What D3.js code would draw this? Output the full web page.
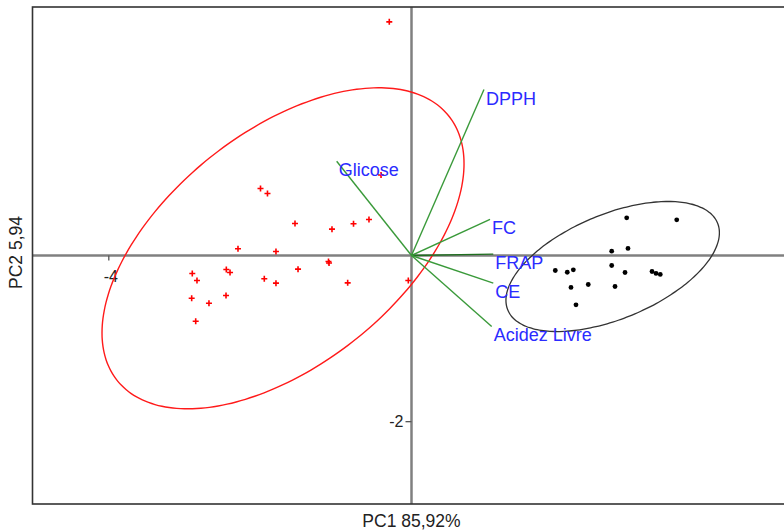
<!DOCTYPE html>
<html>
<head>
<meta charset="utf-8">
<script src="https://cdn.jsdelivr.net/npm/d3@7"></script>
<style>
  body { margin: 0; background: #fff; }
  text { font-family: "Liberation Sans", Arial, sans-serif; }
</style>
</head>
<body>
<div id="holder"></div>
<script>
// scores, group 1 (red crosses)
var redX = [-0.293, -0.402, -1.992, -1.900, -1.537, -1.049, -0.765, -0.561, -2.289, -1.788,
            -2.892, -2.830, -2.443, -2.394, -1.942, -1.788, -1.497, -1.095, -1.088, -0.842,
            -2.900, -2.672, -2.447, -2.847, -0.042];
var redY = [2.821, 0.972, 0.809, 0.749, 0.386, 0.318, 0.383, 0.435, 0.081, 0.048,
            -0.217, -0.302, -0.169, -0.205, -0.281, -0.334, -0.165, -0.072, -0.091, -0.330,
            -0.516, -0.576, -0.483, -0.793, -0.302];

// scores, group 2 (black dots)
var blackX = [2.839, 3.499, 2.641, 2.856, 1.897, 2.055, 2.135, 2.641, 2.817, 3.173,
              3.226, 3.282, 2.104, 2.332, 2.685, 2.170];
var blackY = [0.455, 0.431, 0.052, 0.085, -0.181, -0.202, -0.173, -0.121, -0.205, -0.193,
              -0.217, -0.229, -0.386, -0.350, -0.374, -0.595];

// variable loadings
var varNames = ["DPPH", "Glicose", "FC", "FRAP", "CE", "Acidez Livre"];
var varX = [0.956, -0.987, 1.036, 1.079, 1.079, 1.058];
var varY = [2.004, 1.138, 0.435, 0.016, -0.334, -0.857];

// ellipses: center x, center y, spread x, spread y, correlation
var ellipseRed = [-1.695, 0.087, 2.388, 1.938, 0.527];
var ellipseBlack = [2.654, -0.133, 1.408, 0.785, 0.519];

var xTicks = [-4];
var yTicks = [-2];
var xTitle = "PC1 85,92%";
var yTitle = "PC2 5,94";

var margin = {top: 7, left: 32.5};
var width = 758;
var height = 497;

var svg = d3.select('#holder').append('svg')
  .attr('width', 784)
  .attr('height', 530);

var g = svg.append('g')
  .attr('transform', 'translate(' + margin.left + ',' + margin.top + ')');

var xScale = d3.scaleLinear().domain([-5, 5]).range([0, width]);
var yScale = d3.scaleLinear().domain([-3, 3]).range([height, 0]);

// zero lines
g.append('line')
  .attr('x1', 0).attr('x2', width)
  .attr('y1', yScale(0)).attr('y2', yScale(0))
  .style('stroke', '#808080').style('stroke-width', 2.5);
g.append('line')
  .attr('x1', xScale(0)).attr('x2', xScale(0))
  .attr('y1', 0).attr('y2', height)
  .style('stroke', '#808080').style('stroke-width', 2.5);

// the few ticks there are (plain hyphen, not unicode minus)
var plain = function(d) { return String(d); };
var xAxis = g.append('g')
  .attr('transform', 'translate(0,' + yScale(0) + ')')
  .call(d3.axisBottom(xScale).tickValues(xTicks).tickSize(5).tickPadding(10).tickFormat(plain));
var yAxis = g.append('g')
  .attr('transform', 'translate(' + xScale(0) + ',0)')
  .call(d3.axisLeft(yScale).tickValues(yTicks).tickSize(6).tickPadding(2).tickFormat(plain));
[xAxis, yAxis].forEach(function(a) {
  a.select('.domain').remove();
  a.selectAll('line').style('stroke', '#555').style('stroke-width', 1.3);
  a.selectAll('text').style('font-size', '16px').style('fill', '#222')
    .style('font-family', '"Liberation Sans", Arial, sans-serif');
});
xAxis.selectAll('text').attr('dx', 2);

// ellipse outline from center / spread / correlation
function ellipsePath(e) {
  var pts = d3.range(0, 360, 3).map(function(a) {
    var t = a * Math.PI / 180;
    return [e[0] + e[2] * Math.cos(t),
            e[1] + e[3] * (e[4] * Math.cos(t) + Math.sqrt(1 - e[4] * e[4]) * Math.sin(t))];
  });
  return d3.line()
    .x(function(p) { return xScale(p[0]); })
    .y(function(p) { return yScale(p[1]); })
    .curve(d3.curveCardinalClosed)(pts);
}

g.append('path')
  .attr('d', ellipsePath(ellipseRed))
  .style('fill', 'none').style('stroke', '#ff1a1a').style('stroke-width', 1.4);
g.append('path')
  .attr('d', ellipsePath(ellipseBlack))
  .style('fill', 'none').style('stroke', '#333').style('stroke-width', 1.3);

// loading vectors
var loadings = varNames.map(function(n, i) { return {name: n, x: varX[i], y: varY[i]}; });

g.selectAll('.vec')
  .data(loadings)
  .enter().append('line')
  .attr('class', 'vec')
  .attr('x1', xScale(0)).attr('y1', yScale(0))
  .attr('x2', function(d) { return xScale(d.x); })
  .attr('y2', function(d) { return yScale(d.y); })
  .style('stroke', function(d) { return d.name == 'FRAP' ? '#1f6f1f' : '#3a9a3a'; })
  .style('stroke-width', 1.4);

// group 1 crosses
var red = redX.map(function(v, i) { return [v, redY[i]]; });
g.selectAll('.cross')
  .data(red)
  .enter().append('path')
  .attr('class', 'cross')
  .attr('transform', function(d) { return 'translate(' + xScale(d[0]) + ',' + yScale(d[1]) + ')'; })
  .attr('d', 'M-3,0H3M0,-3V3')
  .style('stroke', '#ff0000').style('stroke-width', 1.6);

// group 2 dots
var black = blackX.map(function(v, i) { return [v, blackY[i]]; });
g.selectAll('.dot')
  .data(black)
  .enter().append('circle')
  .attr('class', 'dot')
  .attr('cx', function(d) { return xScale(d[0]); })
  .attr('cy', function(d) { return yScale(d[1]); })
  .attr('r', 2.4)
  .style('fill', '#000');

// loading labels
g.selectAll('.vlabel')
  .data(loadings)
  .enter().append('text')
  .attr('class', 'vlabel')
  .attr('x', function(d) { return xScale(d.x) + 2; })
  .attr('y', function(d) { return yScale(d.y) + 15; })
  .style('font-size', '18px')
  .style('fill', '#2b2bff')
  .text(function(d) { return d.name; });

// frame
g.append('rect')
  .attr('width', width).attr('height', height)
  .style('fill', 'none').style('stroke', '#333').style('stroke-width', 1.6);

// axis titles
svg.append('text')
  .attr('x', margin.left + xScale(0))
  .attr('y', 527)
  .attr('text-anchor', 'middle')
  .style('font-size', '17.5px').style('fill', '#222')
  .text(xTitle);
svg.append('text')
  .attr('transform', 'translate(22,' + (margin.top + yScale(0) - 3) + ') rotate(-90)')
  .attr('text-anchor', 'middle')
  .style('font-size', '17.5px').style('fill', '#222')
  .text(yTitle);
</script>
</body>
</html>
